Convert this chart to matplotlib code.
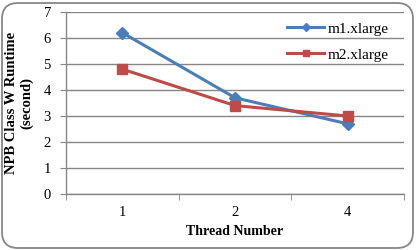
import matplotlib
matplotlib.use("Agg")
import matplotlib.pyplot as plt
from matplotlib.patches import FancyBboxPatch
from matplotlib.transforms import IdentityTransform

categories = ["1", "2", "4"]
m1_xlarge = [6.2, 3.7, 2.7]
m2_xlarge = [4.8, 3.4, 3.0]
yticks = [0, 1, 2, 3, 4, 5, 6, 7]

plt.rcParams['font.family'] = ['Liberation Serif', 'DejaVu Serif']

fig = plt.figure(figsize=(4.16, 2.5), dpi=100)
fig.patch.set_facecolor('white')
border = FancyBboxPatch((2, 2), 411, 245,
                        boxstyle="round,pad=0,rounding_size=16",
                        transform=IdentityTransform(), facecolor='white',
                        edgecolor='#868686', linewidth=1.3, zorder=-5)
fig.patches.append(border)

ax = fig.add_axes([0.159, 0.224, 0.812, 0.728])
ax.set_zorder(2)
ax.set_facecolor('none')
x = list(range(len(categories)))
ax.plot(x, m1_xlarge, color='#4a7ebb', linewidth=2.2, marker='D', markersize=6,
        label='m1.xlarge', zorder=3)
ax.plot(x, m2_xlarge, color='#be4b48', linewidth=2.2, marker='s', markersize=6.5,
        label='m2.xlarge', zorder=3)

ax.set_xlim(-0.5, 2.5)
ax.set_ylim(0, 7)
ax.set_yticks(yticks)
ax.set_yticklabels([str(v) for v in yticks], fontsize=10.5)
ax.set_xticks(x)
ax.set_xticklabels(categories, fontsize=10.5)
ax.set_xticks([-0.5, 0.5, 1.5, 2.5], minor=True)
ax.tick_params(axis='x', which='major', length=0, pad=9)
ax.tick_params(axis='x', which='minor', length=4, color='#868686', direction='out')
ax.tick_params(axis='y', length=4, color='#868686', direction='out', pad=7)
ax.grid(axis='y', color='#868686', linewidth=1.0)
ax.set_axisbelow(True)
for s in ['top', 'right']:
    ax.spines[s].set_visible(False)
for s in ['left', 'bottom']:
    ax.spines[s].set_color('#868686')
    ax.spines[s].set_linewidth(1.0)

ax.set_xlabel('Thread Number', fontsize=10, fontweight='bold', labelpad=4)
ax.set_ylabel('NPB Class W Runtime\n(second)', fontsize=10.5, fontweight='bold', labelpad=7)

leg = ax.legend(loc='upper left', frameon=False, fontsize=11,
                bbox_to_anchor=(0.628, 0.995), handlelength=2.4, labelspacing=0.8,
                handletextpad=0.2, borderaxespad=0.2, markerscale=0.75)

fig.savefig('out.png', dpi=100, facecolor='white')
